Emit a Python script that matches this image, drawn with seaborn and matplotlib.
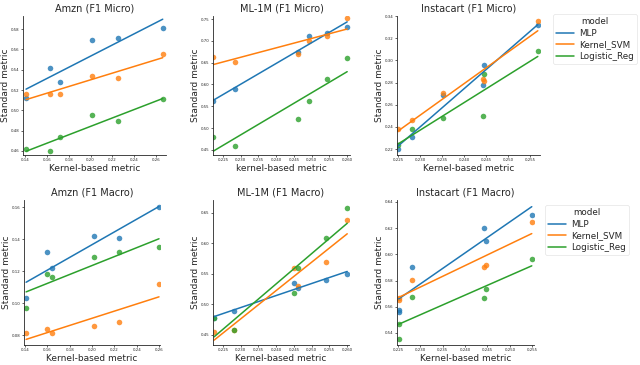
import matplotlib
matplotlib.use("Agg")
import matplotlib.pyplot as plt
import seaborn as sns
import pandas as pd
from matplotlib.lines import Line2D

sns.set_style("ticks")
plt.rcParams['font.family'] = ['DejaVu Sans']

models = ["MLP", "Kernel_SVM", "Logistic_Reg"]
colors = ["#1f77b4", "#ff7f0e", "#2ca02c"]

titles = ["Amzn (F1 Micro)", "ML-1M (F1 Micro)", "Instacart (F1 Micro)",
          "Amzn (F1 Macro)", "ML-1M (F1 Macro)", "Instacart (F1 Macro)"]

# Amzn F1 Micro
amzn_micro_x = [0.141, 0.163, 0.172, 0.201, 0.225, 0.266]
amzn_micro_mlp = [0.512, 0.542, 0.528, 0.569, 0.571, 0.581]
amzn_micro_svm = [0.516, 0.516, 0.516, 0.534, 0.532, 0.556]
amzn_micro_lr = [0.462, 0.460, 0.474, 0.495, 0.490, 0.511]

# ML-1M F1 Micro
ml_micro_x = [0.2222, 0.2284, 0.2462, 0.2493, 0.2544, 0.2600]
ml_micro_mlp = [0.562, 0.590, 0.674, 0.711, 0.718, 0.732]
ml_micro_svm = [0.663, 0.652, 0.670, 0.700, 0.711, 0.752]
ml_micro_lr = [0.480, 0.459, 0.521, 0.562, 0.613, 0.661]

# Instacart F1 Micro
insta_micro_x = [0.2250, 0.2282, 0.2352, 0.2443, 0.2445, 0.2568]
insta_micro_mlp = [0.220, 0.2306, 0.2685, 0.2782, 0.2959, 0.332]
insta_micro_svm = [0.2385, 0.2465, 0.2703, 0.2836, 0.2818, 0.3356]
insta_micro_lr = [0.2235, 0.2385, 0.248, 0.250, 0.288, 0.308]

# Amzn F1 Macro
amzn_macro_x = [0.141, 0.160, 0.164, 0.202, 0.224, 0.260]
amzn_macro_mlp = [0.1031, 0.1319, 0.1219, 0.1419, 0.1406, 0.1600]
amzn_macro_svm = [0.0813, 0.0838, 0.0813, 0.0856, 0.0881, 0.1119]
amzn_macro_lr = [0.0969, 0.1181, 0.1163, 0.1288, 0.1319, 0.1350]

# ML-1M F1 Macro
ml_macro_x = [0.2225, 0.2281, 0.2450, 0.2462, 0.2541, 0.2600]
ml_macro_mlp = [0.4779, 0.4893, 0.5352, 0.5270, 0.5402, 0.5500]
ml_macro_svm = [0.4549, 0.4582, 0.5598, 0.5303, 0.5697, 0.6385]
ml_macro_lr = [0.4779, 0.4582, 0.5189, 0.5598, 0.6090, 0.6582]

# Instacart F1 Macro
insta_macro_x = [0.2252, 0.2252, 0.2281, 0.2442, 0.2446, 0.2549]
insta_macro_mlp = [0.5576, 0.5560, 0.5904, 0.6202, 0.6102, 0.6300]
insta_macro_svm = [0.5667, 0.5652, 0.5805, 0.5904, 0.5919, 0.6247]
insta_macro_lr = [0.5469, 0.5354, 0.5675, 0.5667, 0.5736, 0.5965]

panels = [
    (amzn_micro_x, [amzn_micro_mlp, amzn_micro_svm, amzn_micro_lr]),
    (ml_micro_x, [ml_micro_mlp, ml_micro_svm, ml_micro_lr]),
    (insta_micro_x, [insta_micro_mlp, insta_micro_svm, insta_micro_lr]),
    (amzn_macro_x, [amzn_macro_mlp, amzn_macro_svm, amzn_macro_lr]),
    (ml_macro_x, [ml_macro_mlp, ml_macro_svm, ml_macro_lr]),
    (insta_macro_x, [insta_macro_mlp, insta_macro_svm, insta_macro_lr]),
]

xlabels = ["Kernel-based metric", "kernel-based metric", "Kernel-based metric",
           "Kernel-based metric", "Kernel-based metric", "Kernel-based metric"]

xticks = [
    [0.14, 0.16, 0.18, 0.20, 0.22, 0.24, 0.26],
    [0.225, 0.230, 0.235, 0.240, 0.245, 0.250, 0.255, 0.260],
    [0.225, 0.230, 0.235, 0.240, 0.245, 0.250, 0.255],
    [0.14, 0.16, 0.18, 0.20, 0.22, 0.24, 0.26],
    [0.225, 0.230, 0.235, 0.240, 0.245, 0.250, 0.255, 0.260],
    [0.225, 0.230, 0.235, 0.240, 0.245, 0.250, 0.255],
]
yticks = [
    [0.46, 0.48, 0.50, 0.52, 0.54, 0.56, 0.58],
    [0.45, 0.50, 0.55, 0.60, 0.65, 0.70, 0.75],
    [0.22, 0.24, 0.26, 0.28, 0.30, 0.32, 0.34],
    [0.08, 0.10, 0.12, 0.14, 0.16],
    [0.45, 0.50, 0.55, 0.60, 0.65],
    [0.54, 0.56, 0.58, 0.60, 0.62, 0.64],
]
xlims = [(0.1382, 0.269), (0.2222, 0.2608), (0.2248, 0.2573),
         (0.1391, 0.2609), (0.2222, 0.2605), (0.2248, 0.2554)]
ylims = [(0.456, 0.593), (0.4385, 0.7569), (0.2147, 0.3374),
         (0.0738, 0.1644), (0.4336, 0.6713), (0.5308, 0.6415)]

W, H = 640, 365
# axes boxes in pixels: left, top, right, bottom
boxes = [(23, 16, 166, 155), (213, 16, 350, 155), (397, 16, 540, 155),
         (24, 200, 160, 345), (213, 200, 349, 345), (397, 200, 534, 345)]

fig = plt.figure(figsize=(6.4, 3.65), dpi=100)

for i, (x, ys) in enumerate(panels):
    l, t, r, b = boxes[i]
    ax = fig.add_axes([l / W, 1 - b / H, (r - l) / W, (b - t) / H])
    rows = []
    for m, yv in zip(models, ys):
        for xv, v in zip(x, yv):
            rows.append({"kernel": xv, "standard": v, "model": m})
    df = pd.DataFrame(rows)
    for m, c in zip(models, colors):
        sub = df[df["model"] == m]
        sns.regplot(data=sub, x="kernel", y="standard", ax=ax, ci=None,
                    color=c, truncate=True,
                    scatter_kws={"s": 16, "alpha": 0.8, "linewidths": 0},
                    line_kws={"lw": 1.1})
    ax.set_xlim(*xlims[i])
    ax.set_ylim(*ylims[i])
    ax.set_xticks(xticks[i])
    ax.set_yticks(yticks[i])
    ax.set_xticklabels([f"{v:.3f}" if i in (1, 2, 4, 5) else f"{v:.2f}" for v in xticks[i]])
    ax.set_yticklabels([f"{v:.2f}" for v in yticks[i]])
    ax.tick_params(labelsize=2.8, length=1.5, width=0.5, pad=1)
    ax.set_title(titles[i], fontsize=7, pad=3)
    ax.set_xlabel(xlabels[i], fontsize=6.5, labelpad=1)
    ax.set_ylabel("Standard metric", fontsize=6.5, labelpad=0.5)
    for s in ["left", "bottom"]:
        ax.spines[s].set_linewidth(0.6)
    sns.despine(ax=ax)

handles = [Line2D([0], [0], color=c, lw=1.1) for c in colors]
common = dict(title="model", fontsize=6.3, title_fontsize=6.3, loc="upper left",
              handlelength=2.0, handletextpad=0.6, borderpad=0.35,
              labelspacing=0.3, borderaxespad=0, frameon=True)
leg1 = fig.legend(handles, models, bbox_to_anchor=(553 / W, 1 - 14 / H), **common)
leg2 = fig.legend(handles, models, bbox_to_anchor=(545 / W, 1 - 205 / H), **common)
for lg in (leg1, leg2):
    lg.get_frame().set_linewidth(0.5)
    lg.get_frame().set_edgecolor("#dddddd")

fig.savefig("out.png", dpi=100)
